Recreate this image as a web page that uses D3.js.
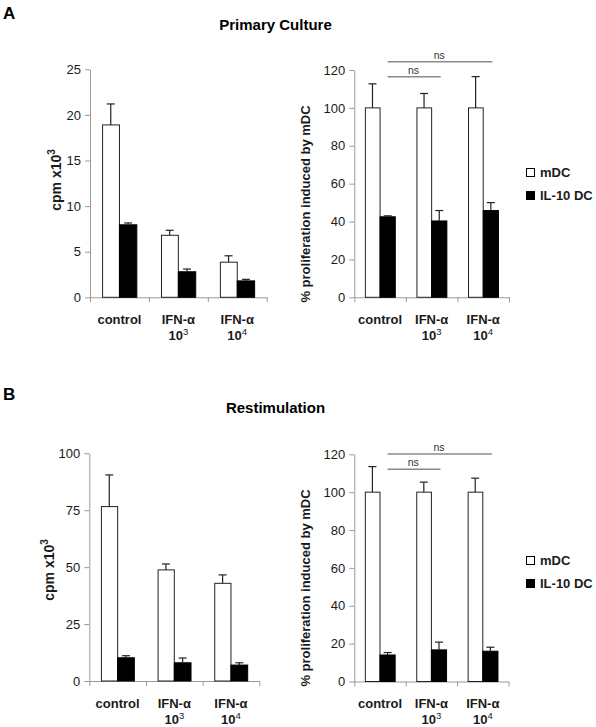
<!DOCTYPE html>
<html><head><meta charset="utf-8">
<script src="https://cdn.jsdelivr.net/npm/d3@7"></script>
<style>
body{margin:0;background:#fff;}
svg{display:block;font-family:"Liberation Sans",Arial,sans-serif;}
</style></head>
<body>
<svg id="c" width="596" height="727"></svg>
<script>
// ---- data ----
const catLine1 = ["control", "IFN-α", "IFN-α"];
const catExp = ["", "3", "4"];
const series = ["mDC", "IL-10 DC"];

const primaryCpmMDC = [18.9, 6.8, 3.85];
const primaryCpmMDCsd = [2.3, 0.55, 0.7];
const primaryCpmIL10 = [7.95, 2.8, 1.8];
const primaryCpmIL10sd = [0.2, 0.3, 0.17];

const primaryPctMDC = [100, 100, 100];
const primaryPctMDCsd = [12.7, 7.6, 16.5];
const primaryPctIL10 = [42.5, 40.3, 45.8];
const primaryPctIL10sd = [0.5, 5.5, 4.2];

const restimCpmMDC = [76.6, 48.8, 42.9];
const restimCpmMDCsd = [13.9, 2.6, 3.7];
const restimCpmIL10 = [10.2, 8.0, 7.0];
const restimCpmIL10sd = [0.9, 2.1, 1.0];

const restimPctMDC = [100, 100, 100];
const restimPctMDCsd = [13.5, 5.3, 7.4];
const restimPctIL10 = [14.0, 16.7, 16.0];
const restimPctIL10sd = [1.3, 4.1, 2.1];

const cpmTicksPrimary = [0, 5, 10, 15, 20, 25];
const cpmTicksRestim = [0, 25, 50, 75, 100];
const pctTicks = [0, 20, 40, 60, 80, 100, 120];

// significance brackets: [from category, to category, level (% units), label]
const sigPrimary = [[0, 1, 116.5, "ns"], [0, 2, 124.4, "ns"]];
const sigRestim = [[0, 1, 112.1, "ns"], [0, 2, 120.2, "ns"]];

// ---- drawing ----
const svg = d3.select("#c");
const AX = "#9a9a9a", TXT = "#1a1a1a";

function panel(o) {
  const g = svg.append("g");
  const x = d3.scaleBand().domain(d3.range(3)).range([o.x0, o.x1]).padding(0);
  const bw = x.bandwidth();
  const off = bw * 0.205;
  const xs = d3.scaleBand().domain(series).range([off, bw - off]).padding(0);
  const y = d3.scaleLinear().domain([0, o.ymax]).range([o.y0, o.ytop]);

  // y axis
  const ya = g.append("g").attr("transform", `translate(${o.x0},0)`)
    .call(d3.axisLeft(y).tickValues(o.ticks).tickSize(5).tickSizeOuter(0).tickPadding(4).tickFormat(d3.format("d")));
  ya.selectAll("path,line").attr("stroke", AX);
  ya.selectAll("text").attr("fill", TXT).style("font-size", "13px").style("font-family", "Liberation Sans, Arial, sans-serif");

  // x axis with boundary ticks
  const xl = d3.scaleLinear().domain([0, 3]).range([o.x0, o.x1]);
  const xa = g.append("g").attr("transform", `translate(0,${o.y0})`)
    .call(d3.axisBottom(xl).tickValues([0, 1, 2, 3]).tickSize(5).tickSizeOuter(0).tickFormat(""));
  xa.selectAll("path,line").attr("stroke", AX);

  // bars
  const rows = [];
  d3.range(3).forEach(i => {
    rows.push({i, s: series[0], v: o.a[i], e: o.asd[i]});
    rows.push({i, s: series[1], v: o.b[i], e: o.bsd[i]});
  });
  g.selectAll("rect.bar").data(rows).join("rect").attr("class", "bar")
    .attr("x", d => x(d.i) + xs(d.s) + (d.s === series[0] ? 0.5 : 0))
    .attr("width", d => xs.bandwidth() - (d.s === series[0] ? 0.5 : 0))
    .attr("y", d => y(d.v))
    .attr("height", d => y(0) - y(d.v))
    .attr("fill", d => d.s === series[0] ? "#fff" : "#000")
    .attr("stroke", d => d.s === series[0] ? "#222" : "#000")
    .attr("stroke-width", 1);

  // error bars (upper only)
  const eg = g.selectAll("g.err").data(rows).join("g").attr("class", "err");
  eg.append("line")
    .attr("x1", d => x(d.i) + xs(d.s) + xs.bandwidth() / 2)
    .attr("x2", d => x(d.i) + xs(d.s) + xs.bandwidth() / 2)
    .attr("y1", d => y(d.v)).attr("y2", d => y(d.v + d.e))
    .attr("stroke", "#222").attr("stroke-width", 1.2);
  eg.append("line")
    .attr("x1", d => x(d.i) + xs(d.s) + xs.bandwidth() / 2 - 4)
    .attr("x2", d => x(d.i) + xs(d.s) + xs.bandwidth() / 2 + 4)
    .attr("y1", d => y(d.v + d.e)).attr("y2", d => y(d.v + d.e))
    .attr("stroke", "#222").attr("stroke-width", 1.2);

  // category labels
  g.selectAll("text.cat").data(d3.range(3)).join("text").attr("class", "cat")
    .attr("x", i => x(i) + bw / 2).attr("y", o.y0 + 26.5)
    .attr("text-anchor", "middle").attr("fill", TXT)
    .style("font-size", "13px").style("font-weight", "bold")
    .text(i => catLine1[i]);
  const c2 = g.selectAll("text.cat2").data(d3.range(3).filter(i => catExp[i])).join("text").attr("class", "cat2")
    .attr("x", i => x(i) + bw / 2).attr("y", o.y0 + 42.5)
    .attr("text-anchor", "middle").attr("fill", TXT)
    .style("font-size", "13px").style("font-weight", "bold");
  c2.append("tspan").text("10");
  c2.append("tspan").attr("dy", -5).style("font-size", "9.5px").style("font-weight", "normal").text(i => catExp[i]);

  // y label
  const yl = g.append("text")
    .attr("transform", `translate(${o.ylx},${o.yly}) rotate(-90)`)
    .attr("text-anchor", "middle").attr("fill", TXT)
    .style("font-size", o.ylsize).style("font-weight", "bold");
  yl.append("tspan").text(o.ylabel);
  if (o.ysup) yl.append("tspan").attr("dy", -6).style("font-size", "10px").text(o.ysup);

  // significance brackets
  if (o.sig) {
    const cx = i => x(i) + xs(series[1]) + xs.bandwidth() / 2;
    o.sig.forEach(s => {
      g.append("line").attr("x1", cx(s[0])).attr("x2", cx(s[1]) + 1.5)
        .attr("y1", y(s[2])).attr("y2", y(s[2]))
        .attr("stroke", "#8a8a8a").attr("stroke-width", 1.5);
      g.append("text").attr("x", (cx(s[0]) + cx(s[1])) / 2).attr("y", y(s[2]) - 3)
        .attr("text-anchor", "middle").attr("fill", "#333")
        .style("font-size", "10.5px").text(s[3]);
    });
  }
}

function legend(yTop) {
  const lg = svg.append("g");
  series.forEach((s, k) => {
    lg.append("rect").attr("x", 526.5).attr("y", yTop + k * 23 + 0.5).attr("width", 8).attr("height", 8)
      .attr("fill", k === 0 ? "#fff" : "#000").attr("stroke", "#000").attr("stroke-width", 1);
    lg.append("text").attr("x", 540).attr("y", yTop + k * 23 + 8.5)
      .attr("fill", TXT).style("font-size", "13px").style("font-weight", "bold").text(s);
  });
}

function heading(letter, title, yl, yt) {
  svg.append("text").attr("x", 3).attr("y", yl).attr("fill", "#000")
    .style("font-size", "17px").style("font-weight", "bold").text(letter);
  svg.append("text").attr("x", 275.5).attr("y", yt).attr("text-anchor", "middle").attr("fill", "#000")
    .style("font-size", "15px").style("font-weight", "bold").text(title);
}

heading("A", "Primary Culture", 18.5, 30);
heading("B", "Restimulation", 400, 413);

panel({x0: 90, x1: 266.7, y0: 297.3, ytop: 69.3, ymax: 25, ticks: cpmTicksPrimary,
  a: primaryCpmMDC, asd: primaryCpmMDCsd, b: primaryCpmIL10, bsd: primaryCpmIL10sd,
  ylabel: "cpm x10", ysup: "3", ylx: 61, yly: 180, ylsize: "14px"});
panel({x0: 354.3, x1: 509, y0: 297.3, ytop: 70, ymax: 120, ticks: pctTicks,
  a: primaryPctMDC, asd: primaryPctMDCsd, b: primaryPctIL10, bsd: primaryPctIL10sd,
  ylabel: "% proliferation induced by mDC", ylx: 310, yly: 204, ylsize: "13px", sig: sigPrimary});
panel({x0: 89.3, x1: 259.3, y0: 681, ytop: 453.3, ymax: 100, ticks: cpmTicksRestim,
  a: restimCpmMDC, asd: restimCpmMDCsd, b: restimCpmIL10, bsd: restimCpmIL10sd,
  ylabel: "cpm x10", ysup: "3", ylx: 54, yly: 570, ylsize: "14px"});
panel({x0: 354.3, x1: 508.5, y0: 681.5, ytop: 454.3, ymax: 120, ticks: pctTicks,
  a: restimPctMDC, asd: restimPctMDCsd, b: restimPctIL10, bsd: restimPctIL10sd,
  ylabel: "% proliferation induced by mDC", ylx: 310, yly: 588, ylsize: "13px", sig: sigRestim});

legend(168);
legend(556);
</script>
</body></html>
